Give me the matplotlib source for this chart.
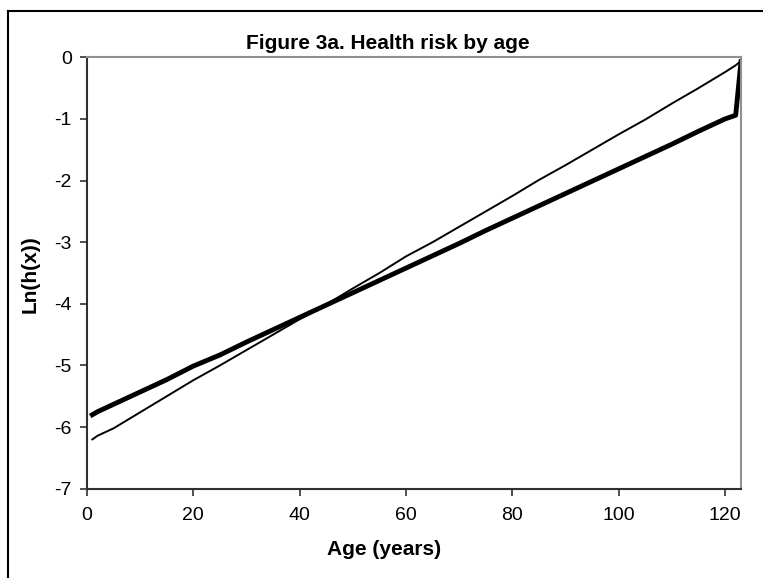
import matplotlib.pyplot as plt
from matplotlib.lines import Line2D

# Data (age in years, log hazard)
ages = [1, 2, 5, 10, 15, 20, 25, 30, 35, 40, 45, 50, 55, 60, 65,
        70, 75, 80, 85, 90, 95, 100, 105, 110, 115, 120, 122, 123]
ln_h_thin = [-6.20, -6.14, -6.02, -5.76, -5.50, -5.24, -5.00, -4.75, -4.50,
             -4.25, -4.01, -3.75, -3.50, -3.23, -3.00, -2.75, -2.50, -2.25,
             -1.99, -1.75, -1.50, -1.25, -1.01, -0.75, -0.50, -0.24, -0.13, -0.06]
ln_h_thick = [-5.80, -5.75, -5.63, -5.43, -5.23, -5.01, -4.83, -4.62, -4.42,
              -4.22, -4.02, -3.82, -3.62, -3.42, -3.22, -3.02, -2.81, -2.61,
              -2.41, -2.21, -2.01, -1.81, -1.61, -1.41, -1.20, -1.00, -0.94, -0.07]

x_ticks = [0, 20, 40, 60, 80, 100, 120]
y_ticks = [0, -1, -2, -3, -4, -5, -6, -7]

plt.rcParams['font.family'] = ['Liberation Sans', 'DejaVu Sans']

fig = plt.figure(figsize=(7.63, 5.78), dpi=100)
W, H = 763, 578
ax = fig.add_axes([87 / W, 1 - 488.7 / H, (741 - 87) / W, (488.7 - 57.3) / H])

ax.plot(ages, ln_h_thin, color='black', linewidth=1.4)
ax.plot(ages, ln_h_thick, color='black', linewidth=3.5)

ax.set_xlim(0, 123)
ax.set_ylim(-7, 0)
ax.set_xticks(x_ticks)
ax.set_yticks(y_ticks)
ax.set_yticklabels([str(v) for v in y_ticks])
ax.tick_params(axis='both', direction='out', length=5, width=1.2,
               labelsize=14, color='#303030')
ax.tick_params(axis='y', pad=6)
ax.tick_params(axis='x', pad=8)

for side in ['left', 'bottom']:
    ax.spines[side].set_color('#303030')
    ax.spines[side].set_linewidth(1.5)
for side in ['top', 'right']:
    ax.spines[side].set_color('#909090')
    ax.spines[side].set_linewidth(1.5)

ax.set_xlabel('Age (years)', fontsize=15, fontweight='bold')
ax.xaxis.label.set_verticalalignment('baseline')
ax.xaxis.set_label_coords(384 / W, 1 - 555 / H, transform=fig.transFigure)
ax.set_ylabel('Ln(h(x))', fontsize=15, fontweight='bold')
ax.yaxis.label.set_verticalalignment('center')
ax.yaxis.set_label_coords(30 / W, 1 - 274 / H, transform=fig.transFigure)

fig.text(388 / W, 1 - 49.3 / H, 'Figure 3a. Health risk by age',
         ha='center', va='baseline', fontsize=15, fontweight='bold')

# outer chart border (only left and top edges are visible)
fig.add_artist(Line2D([8.3 / W, 8.3 / W], [0, 1 - 10.7 / H],
                      transform=fig.transFigure, color='black', linewidth=1.5))
fig.add_artist(Line2D([8.3 / W, 1], [1 - 10.7 / H, 1 - 10.7 / H],
                      transform=fig.transFigure, color='black', linewidth=1.5))

fig.savefig('out.png', dpi=100)
